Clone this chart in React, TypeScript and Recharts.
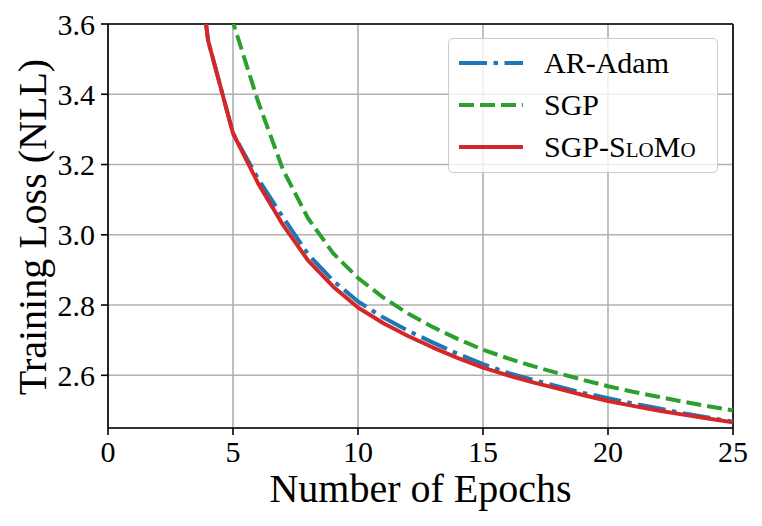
import React from 'react';
import {
  LineChart,
  Line,
  XAxis,
  YAxis,
  CartesianGrid,
  Legend,
  Label,
  ReferenceLine,
} from 'recharts';

// values
const epochs = [3, 4, 5, 6, 7, 8, 9, 10, 11, 12, 13, 14, 15, 16, 17, 18, 19, 20, 21, 22, 23, 24, 25];
const arAdam = [4.15, 3.554, 3.289, 3.16, 3.05, 2.945, 2.87, 2.81, 2.765, 2.727, 2.693, 2.661, 2.632, 2.607, 2.587, 2.568, 2.55, 2.535, 2.52, 2.506, 2.492, 2.48, 2.468];
const sgp = [null, 4.4, 3.605, 3.38, 3.185, 3.047, 2.948, 2.877, 2.822, 2.776, 2.737, 2.703, 2.673, 2.648, 2.626, 2.606, 2.587, 2.569, 2.553, 2.539, 2.525, 2.512, 2.5];
const sgpSlomo = [4.15, 3.554, 3.289, 3.147, 3.028, 2.927, 2.853, 2.793, 2.749, 2.712, 2.679, 2.649, 2.622, 2.6, 2.58, 2.562, 2.544, 2.527, 2.513, 2.5, 2.488, 2.477, 2.466];

const xTicks = [0, 5, 10, 15, 20, 25];
const yTicks = [2.6, 2.8, 3.0, 3.2, 3.4, 3.6];

const data = epochs.map((epoch, i) => ({
  epoch,
  arAdam: arAdam[i],
  sgp: sgp[i],
  sgpSlomo: sgpSlomo[i],
}));

const series = [
  { key: 'arAdam', name: 'AR-Adam', color: '#1f77b4', dash: '28 6.5 4.5 6.5' },
  { key: 'sgp', name: 'SGP', color: '#2ca02c', dash: '15 6' },
  { key: 'sgpSlomo', name: 'SGP-SloMo', color: '#d62728', dash: undefined },
];

const FONT = '"Liberation Serif", "DejaVu Serif", serif';

function LegendLabel({ name }: { name: string }) {
  if (name === 'SGP-SloMo') {
    return (
      <span>
        SGP-<span style={{ fontVariant: 'small-caps' }}>SloMo</span>
      </span>
    );
  }
  return <span>{name}</span>;
}

function LegendBox() {
  return (
    <div
      style={{
        width: 270,
        height: 135,
        boxSizing: 'border-box',
        background: 'rgba(255,255,255,0.8)',
        border: '1.6px solid #cccccc',
        borderRadius: 5,
        paddingTop: 3,
        fontFamily: FONT,
        fontSize: 30,
        color: '#000',
      }}
    >
      {series.map((s) => (
        <div key={s.key} style={{ height: 42, display: 'flex', alignItems: 'center' }}>
          <svg width={64} height={10} style={{ marginLeft: 10, marginRight: 21 }}>
            <line x1={0} y1={5} x2={64} y2={5} stroke={s.color} strokeWidth={4} strokeDasharray={s.dash} />
          </svg>
          <LegendLabel name={s.name} />
        </div>
      ))}
    </div>
  );
}

export default function App() {
  return (
    <div style={{ position: 'absolute', left: 0, top: 0, width: 762, height: 526, background: '#fff', fontFamily: FONT }}>
      <LineChart width={762} height={526} data={data} margin={{ top: 24, right: 29, bottom: 0, left: 28 }}>
        <CartesianGrid stroke="#b0b0b0" strokeWidth={1.6} />
        <XAxis
          dataKey="epoch"
          type="number"
          domain={[0, 25]}
          ticks={xTicks}
          height={98}
          tickSize={7}
          tickMargin={6}
          tick={{ fontSize: 30, fill: '#000' }}
          axisLine={{ stroke: '#000', strokeWidth: 1.6 }}
          tickLine={{ stroke: '#000', strokeWidth: 1.6 }}
        >
          <Label value="Number of Epochs" position="insideBottom" offset={24} style={{ fontSize: 40, fill: '#000' }} />
        </XAxis>
        <YAxis
          type="number"
          domain={[2.45, 3.6]}
          allowDataOverflow
          ticks={yTicks}
          width={80}
          tickSize={7}
          tickMargin={6}
          tickFormatter={(v: number) => v.toFixed(1)}
          tick={{ fontSize: 30, fill: '#000' }}
          axisLine={{ stroke: '#000', strokeWidth: 1.6 }}
          tickLine={{ stroke: '#000', strokeWidth: 1.6 }}
        >
          <Label
            content={() => (
              <text
                x={46}
                y={227}
                transform="rotate(-90 46 227)"
                textAnchor="middle"
                style={{ fontSize: 40, fill: '#000', fontFamily: FONT }}
              >
                Training Loss (NLL)
              </text>
            )}
          />
        </YAxis>
        <ReferenceLine y={3.6} stroke="#000" strokeWidth={1.6} />
        <ReferenceLine x={25} stroke="#000" strokeWidth={1.6} />
        {series.map((s) => (
          <Line
            key={s.key}
            dataKey={s.key}
            name={s.name}
            type="linear"
            stroke={s.color}
            strokeWidth={4}
            strokeDasharray={s.dash}
            strokeLinejoin="round"
            dot={false}
            activeDot={false}
            connectNulls={false}
            isAnimationActive={false}
          />
        ))}
        <Legend
          layout="vertical"
          align="center"
          verticalAlign="middle"
          content={() => <LegendBox />}
          wrapperStyle={{ left: 448, top: 38, width: 270, height: 135 }}
        />
      </LineChart>
    </div>
  );
}
